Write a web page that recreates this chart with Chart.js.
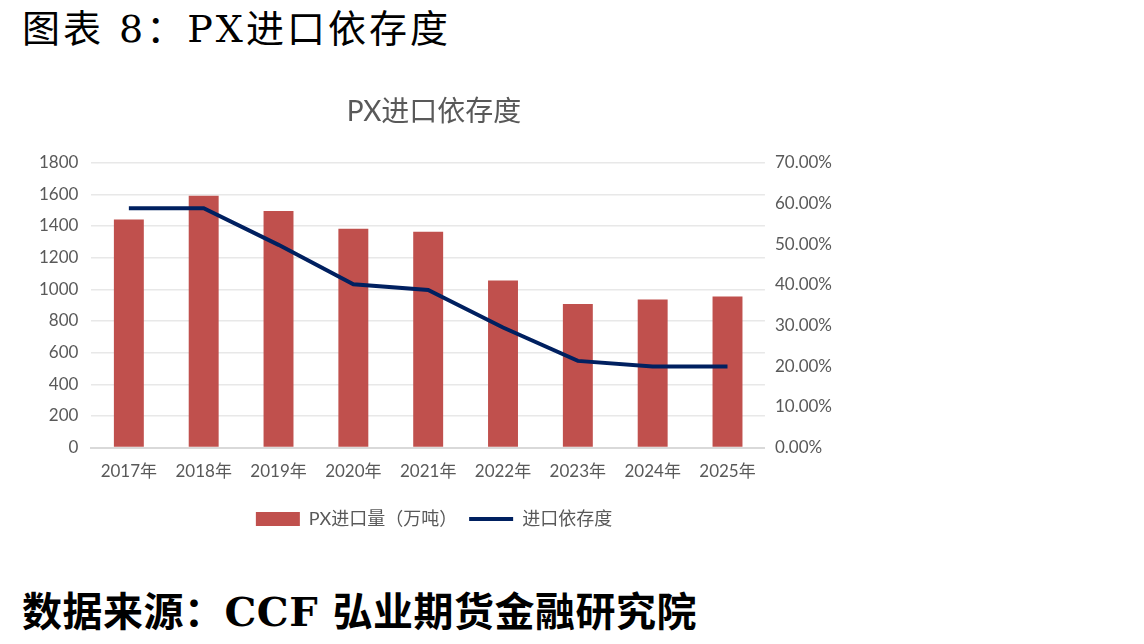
<!DOCTYPE html>
<html>
<head>
<meta charset="utf-8">
<script src="https://cdn.jsdelivr.net/npm/chart.js@4"></script>
<style>
  body { margin: 0; background: #fff; width: 1144px; height: 644px; overflow: hidden; position: relative; }
  .head { position: absolute; left: 22px; top: -2px; font: 38px 'DejaVu Serif', 'Noto Sans CJK SC', serif; color: #000; letter-spacing: 3px; }
  .foot { position: absolute; left: 22px; top: 580px; font: bold 40px 'DejaVu Serif', 'Noto Sans CJK SC', serif; color: #000; letter-spacing: 0.5px; }
  .box { position: absolute; left: 18px; top: 90px; width: 860px; height: 448px; }
</style>
</head>
<body>
<div class="head">图表 8：PX进口依存度</div>
<div class="box"><canvas id="c"></canvas></div>
<div class="foot">数据来源：CCF 弘业期货金融研究院</div>
<script>
const years = ['2017年', '2018年', '2019年', '2020年', '2021年', '2022年', '2023年', '2024年', '2025年'];
const importVolume = [1440, 1590, 1495, 1383, 1364, 1055, 907, 935, 954];
const dependence = [58.8, 58.8, 49.8, 40.1, 38.7, 29.5, 21.3, 19.9, 19.9];
const leftTicks = { max: 1800, step: 200 };
const rightTicks = { max: 70, step: 10 };

const fontFamily = "Lato, 'Noto Sans CJK SC', sans-serif";
const grey = '#595959';

new Chart(document.getElementById('c'), {
  data: {
    labels: years,
    datasets: [
      {
        type: 'line',
        label: '进口依存度',
        data: dependence,
        yAxisID: 'y1',
        borderColor: '#002060',
        backgroundColor: '#002060',
        borderWidth: 4,
        pointRadius: 0,
        pointStyle: 'line',
        tension: 0,
        order: 0
      },
      {
        type: 'bar',
        label: 'PX进口量（万吨）',
        data: importVolume,
        yAxisID: 'y',
        backgroundColor: '#c0504d',
        borderWidth: 0,
        pointStyle: 'rect',
        barPercentage: 0.8,
        categoryPercentage: 0.5,
        order: 1
      }
    ]
  },
  options: {
    responsive: true,
    maintainAspectRatio: false,
    animation: false,
    layout: { padding: { left: 8, right: 36, top: 0, bottom: 0 } },
    plugins: {
      title: {
        display: true,
        text: 'PX进口依存度',
        color: grey,
        font: { family: fontFamily, size: 28, weight: 'normal' },
        padding: { top: 5, bottom: 34 }
      },
      legend: {
        position: 'bottom',
        reverse: true,
        labels: {
          usePointStyle: true,
          pointStyleWidth: 44,
          boxHeight: 14,
          color: grey,
          padding: 12,
          font: { family: fontFamily, size: 18 }
        }
      },
      tooltip: { enabled: false }
    },
    scales: {
      x: {
        grid: { display: false },
        border: { color: '#d9d9d9', width: 2 },
        ticks: { color: grey, font: { family: fontFamily, size: 17 }, padding: 6 },
        afterFit: s => { s.height += 10; }
      },
      y: {
        position: 'left',
        min: 0,
        max: leftTicks.max,
        ticks: {
          stepSize: leftTicks.step,
          color: grey,
          font: { family: fontFamily, size: 17 },
          padding: 13,
          callback: v => String(v)
        },
        grid: { color: '#e8e8e8', lineWidth: 1.5, drawTicks: false },
        border: { display: false }
      },
      y1: {
        position: 'right',
        min: 0,
        max: rightTicks.max,
        ticks: {
          stepSize: rightTicks.step,
          color: grey,
          font: { family: fontFamily, size: 17 },
          padding: 10,
          callback: v => v.toFixed(2) + '%'
        },
        grid: { display: false, drawTicks: false },
        border: { display: false }
      }
    }
  }
});
</script>
</body>
</html>
